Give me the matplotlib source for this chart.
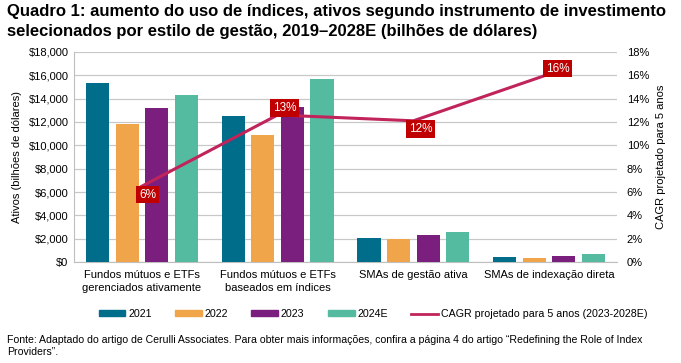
import numpy as np
import matplotlib.pyplot as plt
from matplotlib.patches import Patch
from matplotlib.lines import Line2D

plt.rcParams['font.family'] = ['Liberation Sans', 'DejaVu Sans']

categories = ['Fundos mútuos e ETFs\ngerenciados ativamente',
              'Fundos mútuos e ETFs\nbaseados em índices',
              'SMAs de gestão ativa',
              'SMAs de indexação direta']
years = ['2021', '2022', '2023', '2024E']
v2021 = [15300, 12500, 2100, 450]
v2022 = [11800, 10900, 1950, 350]
v2023 = [13200, 13300, 2300, 500]
v2024 = [14300, 15700, 2600, 700]
cagr = [6.5, 12.6, 12.1, 16.1]
cagr_labels = ['6%', '13%', '12%', '16%']
colors = ['#006E8A', '#F0A54A', '#7A1F7E', '#55BBA0']
line_color = '#C0245A'

fig = plt.figure(figsize=(6.81, 3.63), dpi=100)
ax = fig.add_axes([0.1087, 0.278, 0.7973, 0.579])
x = np.arange(len(categories))
width = 0.17
step = 0.218
series = [v2021, v2022, v2023, v2024]
for i, vals in enumerate(series):
    ax.bar(x + (i - 1.5) * step, vals, width, color=colors[i], zorder=3)

ax.set_xlim(-0.5, 3.5)
ax.set_ylim(0, 18000)
ax.set_yticks(np.arange(0, 18001, 2000))
ax.set_yticklabels(['${:,}'.format(v) for v in range(0, 18001, 2000)], fontsize=8)
ax.set_xticks(x)
ax.set_xticklabels(categories, fontsize=8, linespacing=1.35)
ax.tick_params(axis='y', length=0, pad=4)
ax.tick_params(axis='x', length=0, pad=6)
ax.grid(axis='y', color='#C8C8C8', linewidth=0.9, zorder=0)
for s in ['top', 'right']:
    ax.spines[s].set_visible(False)
for s in ['left', 'bottom']:
    ax.spines[s].set_color('#BFBFBF')
ax.set_ylabel('Ativos (bilhões de dólares)', fontsize=8, labelpad=5)

ax2 = ax.twinx()
ax2.set_ylim(0, 18)
ax2.set_yticks(np.arange(0, 19, 2))
ax2.set_yticklabels(['{}%'.format(v) for v in range(0, 19, 2)], fontsize=8)
ax2.tick_params(axis='y', length=0, pad=7)
for s in ['top', 'right', 'left', 'bottom']:
    ax2.spines[s].set_visible(False)
ax2.set_ylabel('CAGR projetado para 5 anos', fontsize=8, labelpad=5)
ax2.plot(x, cagr, color=line_color, linewidth=2.2, zorder=4)

offsets = [(4, -6), (5, 5), (5, -6), (6, 4)]
for xi, yi, lab, off in zip(x, cagr, cagr_labels, offsets):
    ax2.annotate(lab, (xi, yi), xytext=off, textcoords='offset points',
                 ha='center', va='center', color='white', fontsize=8.5,
                 bbox=dict(boxstyle='square,pad=0.25', fc='#C00000', ec='none'),
                 zorder=5)

handles = [Patch(color=c) for c in colors] + [Line2D([], [], color=line_color, lw=2)]
labels = years + ['CAGR projetado para 5 anos (2023-2028E)']
fig.legend(handles, labels, loc='center', bbox_to_anchor=(373 / 681, 1 - 314 / 363), ncol=5,
           frameon=False, fontsize=7.7, handlelength=2.5, handleheight=0.5,
           handletextpad=0.25, columnspacing=2.2)

fig.text(0.010, 0.988, 'Quadro 1: aumento do uso de índices, ativos segundo instrumento de investimento\n'
         'selecionados por estilo de gestão, 2019–2028E (bilhões de dólares)',
         fontsize=12, fontweight='bold', va='top', ha='left', linespacing=1.38)
fig.text(0.010, 1 - 346 / 363, 'Fonte: Adaptado do artigo de Cerulli Associates. Para obter mais informações, confira a página 4 do artigo “Redefining the Role of Index\n'
         'Providers”.', fontsize=7.6, va='center', ha='left', linespacing=1.2)

fig.savefig('out.png', dpi=100)
